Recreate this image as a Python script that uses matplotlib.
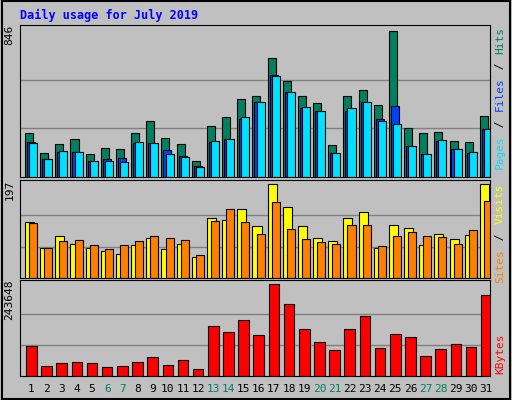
import matplotlib.pyplot as plt
import numpy as np

days = list(range(1, 32))
weekend = [6, 7, 13, 14, 20, 21, 27, 28]
hits = [255, 140, 191, 220, 134, 168, 163, 255, 323, 226, 191, 94, 295, 346, 450, 467,
        691, 553, 467, 427, 186, 467, 501, 415, 846, 283, 255, 260, 209, 203, 352]
files = [203, 105, 147, 145, 94, 105, 111, 197, 197, 157, 122, 65, 203, 220, 335, 433,
         593, 490, 398, 381, 140, 381, 433, 335, 410, 180, 134, 209, 163, 140, 278]
pages = [197, 105, 151, 145, 94, 94, 88, 203, 197, 134, 117, 59, 209, 220, 346, 433,
         582, 490, 404, 381, 140, 398, 433, 323, 306, 180, 134, 214, 163, 145, 278]
visits = [118, 62, 88, 71, 62, 56, 51, 69, 84, 60, 71, 43, 126, 122, 144, 109,
          197, 148, 109, 84, 77, 126, 139, 62, 111, 105, 69, 92, 81, 90, 197]
sites = [116, 62, 77, 79, 69, 60, 69, 77, 88, 84, 79, 49, 120, 144, 118, 92,
         159, 103, 81, 75, 71, 111, 111, 66, 88, 96, 88, 86, 71, 101, 161]
kbytes = [80300, 26800, 34800, 37500, 34800, 24100, 26800, 37500, 50900, 29500, 42800,
          18700, 131200, 115100, 147300, 107100, 243648, 190100, 123200, 91000, 69600,
          123200, 158000, 75000, 109800, 101700, 53500, 72300, 85700, 77600, 214200]

W, H = 512, 400
fig = plt.figure(figsize=(5.12, 4.0), dpi=100, facecolor='#c0c0c0')
mono = 'DejaVu Sans Mono'
x = np.arange(31)

def box(x0, y0, x1, y1):
    return [x0 / W, 1 - y1 / H, (x1 - x0) / W, (y1 - y0) / H]

def setup(ax, vmax, label):
    ax.set_facecolor('#c0c0c0')
    ax.set_xlim(0, 31)
    ax.set_ylim(0, vmax * 1.04)
    ax.set_xticks([])
    ax.set_yticks([])
    for g in (vmax / 3, vmax * 2 / 3):
        ax.axhline(g, color='#808080', lw=1, zorder=0)
    for s in ax.spines.values():
        s.set_color('black')
    ax.text(-0.012, 1.0, label, transform=ax.transAxes, rotation=90, ha='right', va='top',
            family=mono, fontsize=8)

# outer frame
fig.patches.append(plt.Rectangle((0.003, 0.003), 0.994, 0.994, transform=fig.transFigure,
                                 fill=False, ec='black', lw=1.5))
fig.text(20 / W, 1 - 15 / H, 'Daily usage for July 2019', color='#0000ff', family=mono,
         fontsize=8.5, weight='bold', va='center')

ax1 = fig.add_axes(box(20, 25, 490, 177))
setup(ax1, 846, '846')
kw = dict(edgecolor='black', linewidth=0.8, align='edge')
ax1.bar(x + 0.33, hits, 0.53, color='#008060', **kw)
ax1.bar(x + 0.46, files, 0.53, color='#0040ff', **kw)
ax1.bar(x + 0.6, pages, 0.53, color='#00e0ff', **kw)

ax2 = fig.add_axes(box(20, 180, 490, 278))
setup(ax2, 197, '197')
ax2.bar(x + 0.33, visits, 0.6, color='#ffff00', **kw)
ax2.bar(x + 0.6, sites, 0.53, color='#ff8000', **kw)

ax3 = fig.add_axes(box(20, 280, 490, 376))
setup(ax3, 243648, '243648')
ax3.bar(x + 0.4, kbytes, 0.7, color='#ff0000', **kw)

for i, d in enumerate(days):
    ax3.text(i + 0.75, -0.08, str(d), transform=ax3.get_xaxis_transform(), ha='center',
             va='top', family=mono, fontsize=8,
             color='#008060' if d in weekend else 'black')

def side(y_top, parts):
    yy = y_top
    for txt, c in parts:
        t = fig.text(500 / W, 1 - yy / H, txt, rotation=90, color=c, family=mono,
                     fontsize=8, ha='center', va='top')
        yy += len(txt) * 7.2

side(27, [('Hits', '#008060'), (' / ', 'black'), ('Files', '#0040ff'), (' / ', 'black'),
          ('Pages', '#00e0ff')])
side(184, [('Visits', '#ffff00'), (' / ', 'black'), ('Sites', '#ff8000')])
side(333, [('KBytes', '#ff0000')])

fig.savefig('out.png', dpi=100, facecolor=fig.get_facecolor())
